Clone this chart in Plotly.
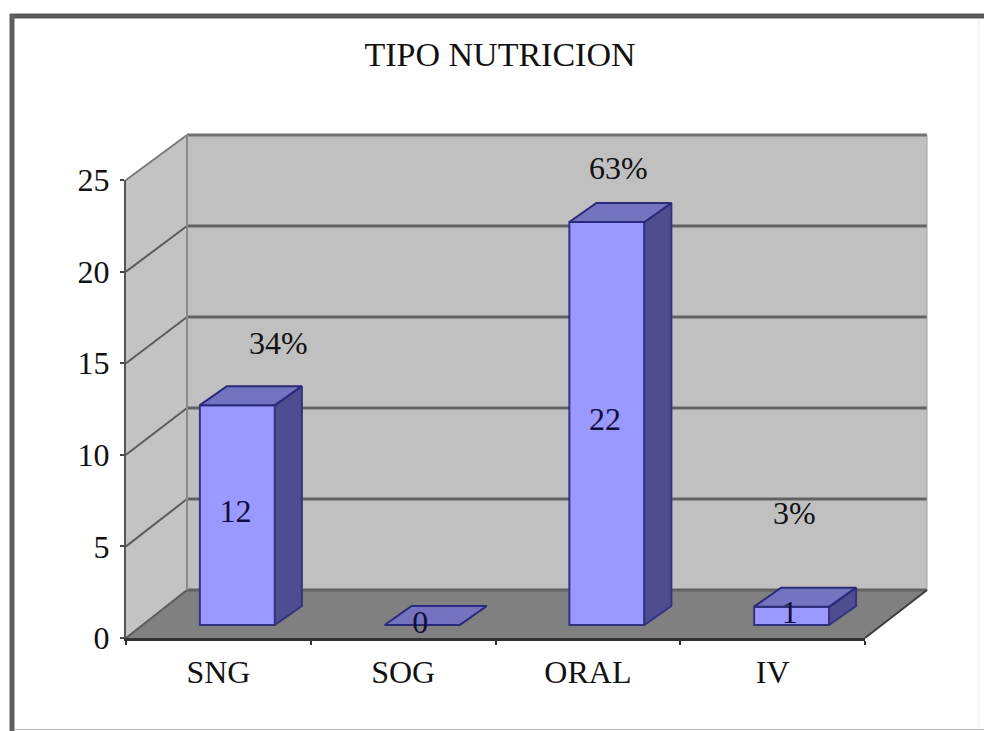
import plotly.graph_objects as go

# ---- data ----
categories = ["SNG", "SOG", "ORAL", "IV"]
values = [12, 0, 22, 1]
percent_labels = ["34%", "", "63%", "3%"]
y_ticks = [0, 5, 10, 15, 20, 25]
title_text = "TIPO NUTRICION"

# ---- layout geometry (pixels of the 984x731 page) ----
W, H = 984, 731
AX_L, AX_R, AX_B, AX_T = 126, 865, 638, 180   # front plane of the 3D box
WALL_DX, WALL_DY = 61, 48                     # depth of the box
BAR_DX, BAR_DY = 27, 19                       # depth of a bar
BAR_SHIFT_X, BAR_SHIFT_Y = 19, 13             # bars stand inside the floor
BAR_W = 75
PX_PER_CAT = (AX_R - AX_L) / 4
PX_PER_UNIT = (AX_B - AX_T) / 25

FONT = "Liberation Serif"
TXT = "#111111"


def px(x):
    return x / W


def py(y):
    return 1 - y / H


def poly(pts):
    return "M" + " L".join(f"{px(a):.5f},{py(b):.5f}" for a, b in pts) + " Z"


def dcat(p):
    return p / PX_PER_CAT


def dval(p):
    return p / PX_PER_UNIT


shapes = []
LX, RX, BY, TY = AX_L, AX_R, AX_B, AX_T
bLX, bRX = LX + WALL_DX, RX + WALL_DX + 1
bBY, bTY = BY - WALL_DY, TY - WALL_DY + 3


def add_poly(pts, fill, line=None, lw=0):
    shapes.append(dict(type="path", xref="paper", yref="paper", path=poly(pts),
                       fillcolor=fill, line=dict(color=line or fill, width=lw),
                       layer="below"))


def add_line(x0, y0, x1, y1, color, lw):
    shapes.append(dict(type="line", xref="paper", yref="paper",
                       x0=px(x0), y0=py(y0), x1=px(x1), y1=py(y1),
                       line=dict(color=color, width=lw), layer="below"))


# frame of the chart picture
add_line(10, 16, 984, 16, "#5a5a5a", 5)
add_line(12, 14, 12, 731, "#5f5f5f", 5)
add_line(14, 729.5, 984, 729.5, "#b5b5b5", 1)
add_line(979, 20, 979, 731, "#eeeeee", 1)

# walls and floor
add_poly([(bLX, bTY), (bRX, bTY), (bRX, bBY), (bLX, bBY)], "#C0C0C0")
add_poly([(LX, TY), (bLX, bTY), (bLX, bBY), (LX, BY)], "#C3C3C3")
add_poly([(LX, BY), (bLX, bBY), (bRX, bBY), (RX, BY)], "#808080")

# gridlines on both walls, from the tick values
for t in y_ticks:
    yf = AX_B - t * PX_PER_UNIT
    yb = bBY - t * (bBY - bTY) / 25
    top = t == y_ticks[-1]
    add_line(LX, yf, bLX, yb, "#7a7a7a" if top else "#5c5c5c", 2)
    add_line(bLX, yb, bRX, yb, "#707070" if top else "#626262", 3)
add_line(bLX, bTY, bLX, bBY, "#8a8a8a", 2)
add_line(bRX, bTY, bRX, bBY, "#a0a0a0", 1)
add_line(RX, BY, bRX, bBY, "#3c3c3c", 2)

# ---- marks, all derived from values ----
idx = list(range(len(categories)))
shift_x = dcat(BAR_SHIFT_X)
base = dval(BAR_SHIFT_Y)
bw = dcat(BAR_W)
ddx, ddy = dcat(BAR_DX), dval(BAR_DY)
centers = [i + shift_x for i in idx]

side_x, side_y, top_x, top_y = [], [], [], []
for c, v in zip(centers, values):
    x0, x1 = c - bw / 2, c + bw / 2
    y0, y1 = base, base + v
    side_x += [x1, x1 + ddx, x1 + ddx, x1, x1, None]
    side_y += [y0, y0 + ddy, y1 + ddy, y1, y0, None]
    top_x += [x0, x1, x1 + ddx, x0 + ddx, x0, None]
    top_y += [y1, y1, y1 + ddy, y1 + ddy, y1, None]

EDGE = "#33337F"
fig = go.Figure()
fig.add_trace(go.Bar(x=centers, y=values, base=base, width=bw,
                     marker=dict(color="#9999FF", line=dict(color=EDGE, width=2)),
                     hoverinfo="skip"))
fig.add_trace(go.Scatter(x=side_x, y=side_y, mode="lines", fill="toself",
                         fillcolor="#4D4D8F", line=dict(color=EDGE, width=2),
                         cliponaxis=False, hoverinfo="skip"))
fig.add_trace(go.Scatter(x=top_x, y=top_y, mode="lines", fill="toself",
                         fillcolor="#7373BF", line=dict(color="#2A2A78", width=2),
                         cliponaxis=False, hoverinfo="skip"))

# value labels in the middle of the bars
fig.add_trace(go.Scatter(x=[c - dcat(2) for c in centers],
                         y=[base + v / 2 + dval(1) if v else base for v in values],
                         mode="text", text=[str(v) for v in values],
                         textposition="middle center",
                         textfont=dict(family=FONT, size=32, color="#10103a"),
                         cliponaxis=False, hoverinfo="skip"))

# percentage labels floating above the bars (placed from the bar tops)
pct_dx = [41, 0, 12, 3]
pct_dy = [62, 0, 54, 94]
annotations = []
for c, v, label, dx, dy in zip(centers, values, percent_labels, pct_dx, pct_dy):
    if not label:
        continue
    bar_x = AX_L + (c + 0.5) * PX_PER_CAT + dx
    bar_y = AX_B - (base + v) * PX_PER_UNIT - dy
    annotations.append(dict(text=label, xref="paper", yref="paper",
                            x=px(bar_x), y=py(bar_y), showarrow=False,
                            xanchor="center", yanchor="middle",
                            font=dict(family=FONT, size=32, color=TXT)))

fig.update_layout(
    width=W, height=H, autosize=False,
    margin=dict(l=0, r=0, t=0, b=0, autoexpand=False),
    paper_bgcolor="white", plot_bgcolor="rgba(0,0,0,0)",
    showlegend=False, shapes=shapes, annotations=annotations,
    title=dict(text=title_text, x=500 / W, xanchor="center", xref="paper",
               y=1 - 54 / H, yanchor="middle",
               font=dict(family=FONT, size=34, color=TXT)),
    xaxis=dict(domain=[px(AX_L), px(AX_R)], range=[-0.5, 3.5],
               tickvals=idx, ticktext=categories, ticks="", showgrid=False,
               zeroline=False, showline=True, linecolor="#333333", linewidth=3,
               ticklabelstandoff=4,
               tickfont=dict(family=FONT, size=32, color=TXT),
               minor=dict(tickvals=[-0.5, 0.5, 1.5, 2.5, 3.5], ticks="outside",
                          ticklen=4, tickcolor="#333333", tickwidth=2, showgrid=False)),
    yaxis=dict(domain=[py(AX_B), py(AX_T)], range=[0, 25],
               tickvals=y_ticks, ticks="outside", ticklen=4, tickcolor="#444444",
               tickwidth=2, showgrid=False, zeroline=False, showline=True,
               linecolor="#555555", linewidth=2, ticklabelstandoff=4,
               tickfont=dict(family=FONT, size=32, color=TXT)),
)

fig.write_html("out.html", default_width="984px", default_height="731px",
               config={"displayModeBar": False},
               post_script="document.body.style.margin='0';document.body.style.overflow='hidden';")
